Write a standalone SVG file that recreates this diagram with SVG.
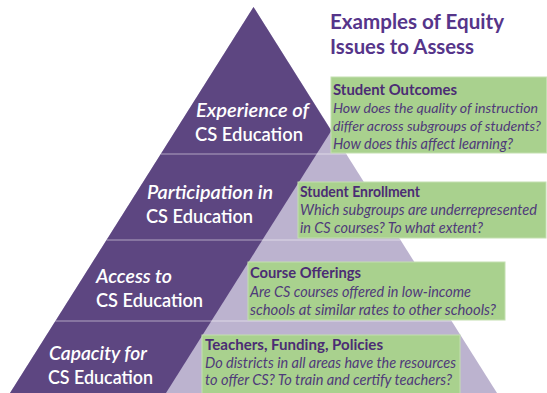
<svg xmlns="http://www.w3.org/2000/svg" width="547" height="393" viewBox="0 0 547 393">
<style>
.lbl{font-family:Lato,"Open Sans","DejaVu Sans",sans-serif;font-size:19px;font-weight:600;fill:#ffffff}
.it{font-style:italic}
.bt{font-family:Lato,"Open Sans","DejaVu Sans",sans-serif;font-size:15px;font-weight:bold;fill:#4b2c74}
.bi{font-family:Lato,"Open Sans","DejaVu Sans",sans-serif;font-size:15px;font-style:italic;fill:#4f3a7a}
.sm{font-size:13.5px}
.ttl{font-family:Lato,"Open Sans","DejaVu Sans",sans-serif;font-size:21px;font-weight:bold;fill:#56358a}
.box{fill:#a9d18e;stroke:#c3dfb0;stroke-width:1}
.band{stroke:#ffffff;stroke-opacity:0.35;stroke-width:1.5}
</style>
<rect width="547" height="393" fill="#ffffff"/>
<g id="pyramid">
<polygon points="253.5,7 497,393 10,393" fill="#bcb3cf"/>
<polygon points="253.5,7 331.3,130.7 166,393 10,393" fill="#5d4681"/>
<line class="band" x1="160.7" y1="154" x2="346.3" y2="154"/>
<line class="band" x1="106.5" y1="240" x2="400.5" y2="240"/>
<line class="band" x1="55.4" y1="321" x2="451.6" y2="321"/>
</g>
<g id="title">
<text class="ttl" x="330" y="29" textLength="174" lengthAdjust="spacingAndGlyphs">Examples of Equity</text>
<text class="ttl" x="330" y="54" textLength="144" lengthAdjust="spacingAndGlyphs">Issues to Assess</text>
</g>
<g id="level-experience">
<text class="lbl it" x="196" y="117" textLength="113" lengthAdjust="spacingAndGlyphs">Experience of</text>
<text class="lbl" x="195" y="141" textLength="108" lengthAdjust="spacingAndGlyphs">CS Education</text>
</g>
<g id="level-participation">
<text class="lbl it" x="147" y="199" textLength="126" lengthAdjust="spacingAndGlyphs">Participation in</text>
<text class="lbl" x="146" y="223" textLength="107" lengthAdjust="spacingAndGlyphs">CS Education</text>
</g>
<g id="level-access">
<text class="lbl it" x="96" y="283" textLength="76" lengthAdjust="spacingAndGlyphs">Access to</text>
<text class="lbl" x="96" y="307" textLength="107" lengthAdjust="spacingAndGlyphs">CS Education</text>
</g>
<g id="level-capacity">
<text class="lbl it" x="49" y="360" textLength="98" lengthAdjust="spacingAndGlyphs">Capacity for</text>
<text class="lbl" x="48" y="384" textLength="105" lengthAdjust="spacingAndGlyphs">CS Education</text>
</g>
<g id="box-outcomes">
<rect class="box" x="331" y="77" width="215.5" height="76"/>
<text class="bt" x="333" y="95" textLength="124" lengthAdjust="spacingAndGlyphs">Student Outcomes</text>
<text class="bi sm" x="333" y="113" textLength="205" lengthAdjust="spacingAndGlyphs">How does the quality of instruction</text>
<text class="bi sm" x="333" y="131" textLength="208" lengthAdjust="spacingAndGlyphs">differ across subgroups of students?</text>
<text class="bi" x="333" y="149" textLength="180" lengthAdjust="spacingAndGlyphs">How does this affect learning?</text>
</g>
<g id="box-enrollment">
<rect class="box" x="298" y="182" width="248" height="56"/>
<text class="bt" x="300" y="197" textLength="120" lengthAdjust="spacingAndGlyphs">Student Enrollment</text>
<text class="bi" x="300" y="215" textLength="237" lengthAdjust="spacingAndGlyphs">Which subgroups are underrepresented</text>
<text class="bi" x="300" y="233" textLength="183" lengthAdjust="spacingAndGlyphs">in CS courses? To what extent?</text>
</g>
<g id="box-offerings">
<rect class="box" x="248" y="262" width="257" height="58"/>
<text class="bt" x="250" y="278" textLength="111" lengthAdjust="spacingAndGlyphs">Course Offerings</text>
<text class="bi" x="250" y="297" textLength="221" lengthAdjust="spacingAndGlyphs">Are CS courses offered in low-income</text>
<text class="bi" x="250" y="315" textLength="246" lengthAdjust="spacingAndGlyphs">schools at similar rates to other schools?</text>
</g>
<g id="box-capacity">
<rect class="box" x="202" y="335" width="258" height="62"/>
<text class="bt" x="205" y="350" textLength="178" lengthAdjust="spacingAndGlyphs">Teachers, Funding, Policies</text>
<text class="bi" x="205" y="368" textLength="251" lengthAdjust="spacingAndGlyphs">Do districts in all areas have the resources</text>
<text class="bi" x="205" y="385" textLength="247" lengthAdjust="spacingAndGlyphs">to offer CS? To train and certify teachers?</text>
</g>
</svg>
